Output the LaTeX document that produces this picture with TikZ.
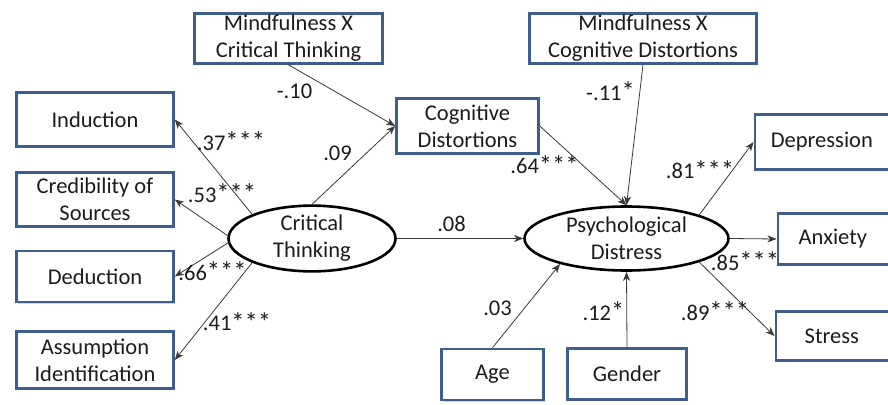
\documentclass[tikz,border=0pt]{standalone}
\usepackage{fontspec}
\setmainfont{Carlito}
\usetikzlibrary{arrows.meta,shapes.geometric,shadows}
\definecolor{boxblue}{HTML}{3E5F8C}
\definecolor{inkgray}{HTML}{1C1C1C}
\definecolor{linegray}{HTML}{3A3A3A}
% slightly enlarged significance star
\newcommand{\sigstar}{\raisebox{-0.6pt}{\scalebox{1.18}{*}}}
\tikzset{
  obs/.style={draw=boxblue, line width=2.6pt, fill=white, inner sep=0pt,
    align=center, text=inkgray,
    drop shadow={shadow xshift=1.6pt, shadow yshift=-1.6pt, opacity=0.35, fill=gray}},
  lat/.style={ellipse, draw=black, line width=2.6pt, fill=white, inner sep=0pt,
    align=center, text=inkgray},
  path/.style={draw=linegray, line width=0.8pt,
    -{Stealth[length=9pt,width=7pt,inset=2.5pt]}},
  coef/.style={inner sep=0pt, text=inkgray},
}
\begin{document}
\begin{tikzpicture}[x=1pt, y=-1pt, font=\fontsize{22.5}{27}\selectfont]
\useasboundingbox (0,0) rectangle (888,404);
\clip (0,0) rectangle (888,404);
\fill[white] (0,0) rectangle (888,404);

% indicator and covariate boxes
\node[obs, minimum width=188pt, minimum height=50pt] (mct) at (288.5,38.5) {Mindfulness X\\Critical Thinking};
\node[obs, minimum width=227pt, minimum height=50pt] (mcd) at (643,38.5) {Mindfulness X\\Cognitive Distortions};
\node[obs, minimum width=157pt, minimum height=54pt] (ind) at (95,119.5) {Induction};
\node[obs, minimum width=157pt, minimum height=54pt] (cred) at (95,199.5) {Credibility of\\Sources};
\node[obs, minimum width=157pt, minimum height=51pt] (ded) at (95,276.5) {Deduction};
\node[obs, minimum width=157pt, minimum height=57pt] (asm) at (95,360) {Assumption\\Identification};
\node[obs, minimum width=142pt, minimum height=55pt] (cd) at (467.5,126) {Cognitive\\Distortions};
\node[obs, minimum width=102pt, minimum height=51pt] (age) at (492.5,374.5) {Age};
\node[obs, minimum width=119pt, minimum height=51pt] (gen) at (627,374) {Gender};
\node[obs, minimum width=150pt, minimum height=55pt, anchor=west] (dep) at (753.5,142) {\hspace*{-16pt}Depression};
\node[obs, minimum width=150pt, minimum height=51pt, anchor=west] (anx) at (776.5,239) {\hspace*{-40pt}Anxiety};
\node[obs, minimum width=150pt, minimum height=49pt, anchor=west] (str) at (774.5,336) {\hspace*{-38pt}Stress};

% latent variables
\node[lat, minimum width=167pt, minimum height=60pt] (ct) at (312,238.5) {Critical\\Thinking};
\node[lat, minimum width=204pt, minimum height=64pt] (pd) at (626.5,238.5) {Psychological\\Distress};

% measurement paths
\draw[path] (ct.158) -- (ind.east);
\draw[path] (ct.178) -- (cred.east);
\draw[path] (ct.183) -- (ded.east);
\draw[path] (ct.202) -- (asm.east);
\draw[path] (pd.18) -- (dep.west);
\draw[path] (pd.east) -- (anx.west);
\draw[path] (pd.-18) -- (str.west);

% structural paths
\draw[path] (mct.south) -- (cd.west);
\draw[path] (ct.north) -- (cd.west);
\draw[path] (cd.east) -- (pd.north);
\draw[path] (mcd.south) -- (pd.north);
\draw[path] (ct.east) -- (pd.west);
\draw[path] (age.north) -- (pd.201);
\draw[path] (gen.north) -- (pd.south);

% coefficients
\node[coef] (c1) at (294.5,91.5) {-.10};
\node[coef] (c2) at (337.5,153.5) {.09};
\node[coef] (c3) at (231,141.5) {.37\sigstar\sigstar\sigstar};
\node[coef] (c4) at (222,193.5) {.53\sigstar\sigstar\sigstar};
\node[coef] (c5) at (212.5,271.5) {.66\sigstar\sigstar\sigstar};
\node[coef] (c6) at (237,322) {.41\sigstar\sigstar\sigstar};
\node[coef] (c7) at (451.5,224) {.08};
\node[coef] (c8) at (610.5,91.5) {-.11\sigstar};
\node[coef] (c9) at (544.5,165) {.64\sigstar\sigstar\sigstar};
\node[coef] (c10) at (700,170) {.81\sigstar\sigstar\sigstar};
\node[coef] (c11) at (745,261.5) {.85\sigstar\sigstar\sigstar};
\node[coef] (c12) at (497.5,308.5) {.03};
\node[coef] (c13) at (603.5,311.5) {.12\sigstar};
\node[coef] (c14) at (715,311.5) {.89\sigstar\sigstar\sigstar};
\end{tikzpicture}
\end{document}
